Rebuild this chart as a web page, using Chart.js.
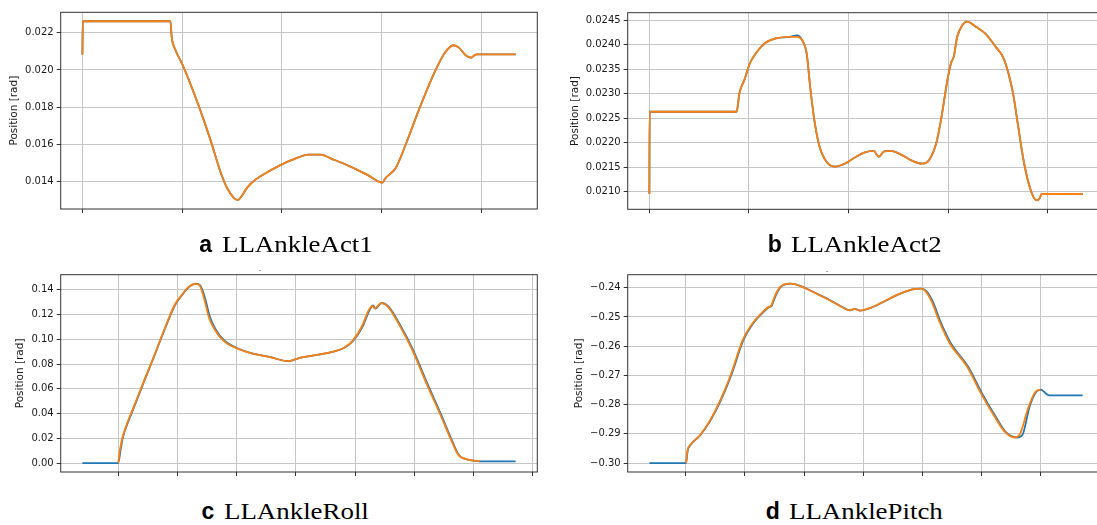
<!DOCTYPE html>
<html><head><meta charset="utf-8">
<script src="https://cdn.jsdelivr.net/npm/chart.js@4.4.1/dist/chart.umd.min.js"></script>
<style>
html,body{margin:0;padding:0;background:#fff;overflow:hidden;}
#fig{position:relative;width:1097px;height:525px;overflow:hidden;background:#fff;}
#fig canvas{position:absolute;}
.capL{position:absolute;font-family:'Liberation Sans',Arial,sans-serif;font-weight:bold;font-size:23px;line-height:24px;color:#000;white-space:nowrap;}
.capN{position:absolute;font-family:'Liberation Serif','Times New Roman','DejaVu Serif',serif;font-size:24px;line-height:24px;color:#000;white-space:nowrap;transform:scaleX(1.12);transform-origin:0 0;}
.dot{position:absolute;width:2px;height:1px;background:#aaa;}
</style>
</head><body>
<div id="fig"></div>
<script>
// ---------- data ----------
// a: LLAnkleAct1
const aX      = [0, 0.05, 8.82, 8.96, 9.31, 10.02, 11.42, 12.82, 13.87, 14.57, 15.56, 15.98, 16.51, 17.38, 18.44, 19.84, 21.59, 22.65, 23.87, 25.1, 26.86, 28.61, 30.09, 30.37, 31.42, 32.47, 33.87, 35.27, 36.33, 37.21, 37.73, 38.44, 38.96, 39.31, 39.56, 43.42];
const aBlue   = [0.02083, 0.02262, 0.02262, 0.02173, 0.0211, 0.0203, 0.01842, 0.01627, 0.01448, 0.01359, 0.01301, 0.01323, 0.01368, 0.01412, 0.01448, 0.01489, 0.01529, 0.01545, 0.01545, 0.0152, 0.01481, 0.01435, 0.01395, 0.01418, 0.01475, 0.01609, 0.01806, 0.01985, 0.02093, 0.02133, 0.0212, 0.02078, 0.02066, 0.0208, 0.02084, 0.02084];
const aOrange = [0.02083, 0.02262, 0.02262, 0.02172, 0.0211, 0.0203, 0.01842, 0.01627, 0.01448, 0.01359, 0.01301, 0.01323, 0.01368, 0.01412, 0.01448, 0.01489, 0.01529, 0.01545, 0.01545, 0.0152, 0.01481, 0.01435, 0.01395, 0.01418, 0.01475, 0.01609, 0.01806, 0.01985, 0.02093, 0.02133, 0.0212, 0.02078, 0.02066, 0.0208, 0.02084, 0.02084];
const aXTicks = [0, 10, 20, 30, 40];
const aYTicks = [0.014, 0.016, 0.018, 0.020, 0.022];
const aYLabels = ['0.014', '0.016', '0.018', '0.020', '0.022'];

// b: LLAnkleAct2
const bX      = [0, 0.03, 8.76, 9.04, 9.56, 10.09, 10.79, 11.66, 12.71, 14.11, 14.81, 15.34, 15.79, 16.14, 16.56, 17.08, 17.78, 18.66, 19.71, 20.75, 21.63, 22.51, 23.03, 23.56, 24.26, 25.3, 26.36, 27.4, 28.1, 28.8, 29.33, 29.86, 30.27, 30.55, 30.9, 31.43, 31.85, 32.83, 33.7, 34.75, 35.62, 36.5, 37.02, 37.55, 38.07, 38.6, 38.88, 39.19, 39.37, 43.49];
const bBlue   = [0.02095, 0.02263, 0.02263, 0.02301, 0.02329, 0.02362, 0.02385, 0.02404, 0.02413, 0.02416, 0.02419, 0.02409, 0.02382, 0.02314, 0.02246, 0.02192, 0.02161, 0.02151, 0.02158, 0.02171, 0.0218, 0.02183, 0.02171, 0.02182, 0.02183, 0.02175, 0.02163, 0.02157, 0.02165, 0.02199, 0.02253, 0.02321, 0.02362, 0.02375, 0.02416, 0.0244, 0.02447, 0.02436, 0.02423, 0.02396, 0.02369, 0.02301, 0.02233, 0.02165, 0.02117, 0.02087, 0.02082, 0.02087, 0.02095, 0.02095];
const bOrange = [0.02095, 0.02263, 0.02263, 0.02301, 0.02329, 0.02362, 0.02385, 0.02404, 0.02413, 0.02416, 0.02416, 0.02409, 0.02382, 0.02314, 0.02246, 0.02192, 0.02161, 0.02151, 0.02158, 0.02171, 0.0218, 0.02183, 0.02171, 0.02182, 0.02183, 0.02175, 0.02163, 0.02157, 0.02165, 0.02199, 0.02253, 0.02321, 0.02362, 0.02375, 0.02416, 0.0244, 0.02447, 0.02436, 0.02423, 0.02396, 0.02369, 0.02301, 0.02233, 0.02165, 0.02117, 0.02087, 0.02082, 0.02087, 0.02095, 0.02095];
const bXTicks = [0, 10, 20, 30, 40];
const bYTicks = [0.0210, 0.0215, 0.0220, 0.0225, 0.0230, 0.0235, 0.0240, 0.0245];
const bYLabels = ['0.0210', '0.0215', '0.0220', '0.0225', '0.0230', '0.0235', '0.0240', '0.0245'];

// c: LLAnkleRoll
const cBlueX   = [-0.605, 0, 0.04, 0.081, 0.158, 0.247, 0.424, 0.602, 0.779, 0.957, 1.075, 1.193, 1.312, 1.383, 1.46, 1.548, 1.637, 1.785, 2.022, 2.258, 2.555, 2.868, 3.087, 3.324, 3.619, 3.826, 3.975, 4.123, 4.241, 4.3, 4.341, 4.448, 4.567, 4.744, 4.98, 5.217, 5.454, 5.631, 5.749, 5.868, 6.045, 6.164, 6.708];
const cBlue    = [0, 0, 0.0105, 0.0212, 0.032, 0.0427, 0.0643, 0.0857, 0.1073, 0.1274, 0.1355, 0.1422, 0.1449, 0.1435, 0.1341, 0.118, 0.1086, 0.0992, 0.0925, 0.0885, 0.0857, 0.0823, 0.0852, 0.0871, 0.0898, 0.0933, 0.0992, 0.11, 0.1234, 0.1274, 0.1247, 0.1293, 0.1261, 0.1127, 0.0911, 0.0643, 0.0387, 0.0185, 0.0065, 0.0032, 0.0016, 0.0013, 0.0013];
const cOrangeX = [0, 0.03, 0.075, 0.15, 0.24, 0.42, 0.6, 0.775, 0.95, 1.07, 1.19, 1.305, 1.375, 1.445, 1.53, 1.62, 1.77, 2.01, 2.25, 2.55, 2.865, 3.085, 3.32, 3.615, 3.82, 3.965, 4.11, 4.23, 4.29, 4.33, 4.44, 4.555, 4.73, 4.965, 5.2, 5.44, 5.62, 5.74, 5.86, 6.04, 6.1];
const cOrange  = [0, 0.011, 0.0212, 0.032, 0.0428, 0.0645, 0.0858, 0.1075, 0.1275, 0.1356, 0.1423, 0.1448, 0.1434, 0.1338, 0.1178, 0.1085, 0.0991, 0.0925, 0.0885, 0.0857, 0.0823, 0.0852, 0.0871, 0.0898, 0.0933, 0.0993, 0.1101, 0.1236, 0.127, 0.125, 0.1292, 0.1262, 0.1128, 0.0912, 0.0645, 0.0388, 0.0186, 0.0066, 0.0033, 0.0017, 0.0015];
const cXTicks = [0, 1, 2, 3, 4, 5, 6, 7];
const cYTicks = [0, 0.02, 0.04, 0.06, 0.08, 0.10, 0.12, 0.14];
const cYLabels = ['0.00', '0.02', '0.04', '0.06', '0.08', '0.10', '0.12', '0.14'];

// d: LLAnklePitch
const dBlueX   = [-0.612, 0.007, 0.035, 0.094, 0.241, 0.418, 0.595, 0.771, 0.977, 1.124, 1.271, 1.418, 1.45, 1.506, 1.595, 1.772, 1.948, 2.184, 2.418, 2.654, 2.772, 2.86, 2.948, 3.125, 3.361, 3.595, 3.831, 3.978, 4.066, 4.184, 4.302, 4.479, 4.772, 5.008, 5.243, 5.413, 5.6, 5.69, 5.806, 5.919, 6.003, 6.088, 6.143, 6.705];
const dBlue    = [-0.3, -0.3, -0.29585, -0.29355, -0.29067, -0.2855, -0.27859, -0.26995, -0.25786, -0.25268, -0.24922, -0.24657, -0.2463, -0.24345, -0.24, -0.23862, -0.23945, -0.24173, -0.24404, -0.2467, -0.24774, -0.24725, -0.24784, -0.24691, -0.24463, -0.24231, -0.24059, -0.24035, -0.24117, -0.24518, -0.25154, -0.259, -0.26708, -0.27627, -0.28435, -0.28953, -0.29126, -0.29033, -0.2809, -0.27571, -0.27489, -0.27627, -0.27686, -0.27686];
const dOrangeX = [0.007, 0.03, 0.09, 0.235, 0.41, 0.585, 0.76, 0.965, 1.112, 1.26, 1.405, 1.44, 1.495, 1.585, 1.765, 1.94, 2.175, 2.41, 2.645, 2.765, 2.855, 2.94, 3.12, 3.355, 3.59, 3.825, 3.97, 4.05, 4.165, 4.285, 4.46, 4.755, 4.99, 5.225, 5.4, 5.555, 5.64, 5.79, 5.905, 5.99];
const dOrange  = [-0.3, -0.29585, -0.29355, -0.29067, -0.2855, -0.27859, -0.26995, -0.25786, -0.25268, -0.24922, -0.24657, -0.2463, -0.24345, -0.24, -0.23862, -0.23945, -0.24173, -0.24404, -0.2467, -0.24774, -0.24725, -0.24784, -0.24691, -0.24463, -0.24231, -0.24059, -0.24035, -0.24117, -0.24518, -0.25154, -0.259, -0.26708, -0.27627, -0.28435, -0.28953, -0.29126, -0.29033, -0.2809, -0.27571, -0.27489];
const dXTicks = [0, 1, 2, 3, 4, 5, 6, 7];
const dYTicks = [-0.30, -0.29, -0.28, -0.27, -0.26, -0.25, -0.24];
const dYLabels = ['\u22120.30', '\u22120.29', '\u22120.28', '\u22120.27', '\u22120.26', '\u22120.25', '\u22120.24'];

const yTitle = 'Position [rad]';
const captions = [
  {letter: 'a', name: 'LLAnkleAct1'},
  {letter: 'b', name: 'LLAnkleAct2'},
  {letter: 'c', name: 'LLAnkleRoll'},
  {letter: 'd', name: 'LLAnklePitch'}
];

// ---------- layout ----------
const fig = document.getElementById('fig');
const BLUE = '#1f77b4', ORANGE = '#ff7f0e';
const GRID = '#c6c6c6', SPINE = '#333333';

const panels = [
  {bx: aX, by: aBlue, ox: aX, oy: aOrange, xt: aXTicks, yt: aYTicks, yl: aYLabels,
   left: 0,   top: 0,   w: 560, h: 235, padTop: 12.3, padRight: 22.7, axisW: 60.7, xAxisH: 26,   titlePad: 8},
  {bx: bX, by: bBlue, ox: bX, oy: bOrange, xt: bXTicks, yt: bYTicks, yl: bYLabels,
   left: 567, top: 0,   w: 560, h: 235, padTop: 12.7, padRight: 22.7, axisW: 60.7, xAxisH: 25.7, titlePad: 2},
  {bx: cBlueX, by: cBlue, ox: cOrangeX, oy: cOrange, xt: cXTicks, yt: cYTicks, yl: cYLabels,
   left: 0,   top: 262, w: 560, h: 235, padTop: 12.7, padRight: 22.7, axisW: 60.7, xAxisH: 25,   titlePad: 14},
  {bx: dBlueX, by: dBlue, ox: dOrangeX, oy: dOrange, xt: dXTicks, yt: dYTicks, yl: dYLabels,
   left: 567, top: 262, w: 560, h: 235, padTop: 12.7, padRight: 22.7, axisW: 60.7, xAxisH: 25,   titlePad: 6}
];

const framePlugin = {
  id: 'frame',
  afterDatasetsDraw(chart) {
    const {ctx, chartArea: a} = chart;
    ctx.save();
    ctx.strokeStyle = SPINE;
    ctx.lineWidth = 1;
    ctx.strokeRect(a.left, a.top, a.right - a.left, a.bottom - a.top);
    ctx.restore();
  }
};

function pts(xs, ys) { return xs.map((x, i) => ({x: x, y: ys[i]})); }

function makePanel(p) {
  const cv = document.createElement('canvas');
  cv.width = p.w; cv.height = p.h;
  cv.style.left = p.left + 'px'; cv.style.top = p.top + 'px';
  cv.style.width = p.w + 'px'; cv.style.height = p.h + 'px';
  fig.appendChild(cv);
  const allX = p.bx.concat(p.ox), allY = p.by.concat(p.oy);
  const x0 = Math.min(...allX), x1 = Math.max(...allX), dx = x1 - x0;
  const y0 = Math.min(...allY), y1 = Math.max(...allY), dy = y1 - y0;
  const gridOpts = {color: GRID, lineWidth: 1, drawTicks: true, tickLength: 4, tickColor: SPINE, tickWidth: 1};
  new Chart(cv, {
    type: 'line',
    data: {datasets: [
      {data: pts(p.ox, p.oy), borderColor: ORANGE, borderWidth: 1.8, pointRadius: 0,
       cubicInterpolationMode: 'monotone', fill: false, order: 0},
      {data: pts(p.bx, p.by), borderColor: BLUE, borderWidth: 1.8, pointRadius: 0,
       cubicInterpolationMode: 'monotone', fill: false, order: 1}
    ]},
    options: {
      responsive: false, animation: false, events: [], devicePixelRatio: 1,
      layout: {padding: {top: p.padTop, right: p.padRight, left: 0, bottom: 0}},
      plugins: {legend: {display: false}, tooltip: {enabled: false}, title: {display: false}},
      scales: {
        x: {type: 'linear', bounds: 'data', min: x0 - 0.05 * dx, max: x1 + 0.05 * dx,
            afterBuildTicks: s => { s.ticks = p.xt.map(v => ({value: v})); },
            afterFit: s => { s.height = p.xAxisH; },
            ticks: {display: false},
            grid: gridOpts,
            border: {display: false}},
        y: {type: 'linear', bounds: 'data', min: y0 - 0.05 * dy, max: y1 + 0.05 * dy,
            afterBuildTicks: s => { s.ticks = p.yt.map(v => ({value: v})); },
            afterFit: s => { s.width = p.axisW; },
            ticks: {callback: (v, i) => p.yl[i], autoSkip: false, padding: 3, color: '#1a1a1a',
                    font: {family: 'DejaVu Sans', size: 10}},
            grid: gridOpts,
            border: {display: false},
            title: {display: true, text: yTitle, color: '#1a1a1a',
                    font: {family: 'DejaVu Sans', size: 10.5},
                    padding: {top: p.titlePad, bottom: 0}}}
      }
    },
    plugins: [framePlugin]
  });
}
panels.forEach(makePanel);

// ---------- captions ----------
const capPos = [
  {cx: 285.8, base: 252}, {cx: 854.8, base: 252},
  {cx: 285.0, base: 518.5}, {cx: 854.5, base: 518.5}
];
captions.forEach((c, i) => {
  const b = document.createElement('span'); b.className = 'capL'; b.textContent = c.letter;
  const s = document.createElement('span'); s.className = 'capN'; s.textContent = c.name;
  fig.appendChild(b); fig.appendChild(s);
  const wb = b.getBoundingClientRect().width;
  const ws = s.getBoundingClientRect().width;
  const gap = 9.5;
  const x0 = capPos[i].cx - (wb + gap + ws) / 2;
  b.style.left = x0 + 'px';
  s.style.left = (x0 + wb + gap) + 'px';
  b.style.top = (capPos[i].base - 20) + 'px';
  s.style.top = (capPos[i].base - 20) + 'px';
});
[[258.5, 269.5], [826, 270.5]].forEach(d => {
  const e = document.createElement('div'); e.className = 'dot';
  e.style.left = d[0] + 'px'; e.style.top = d[1] + 'px'; fig.appendChild(e);
});
</script>
</body></html>
